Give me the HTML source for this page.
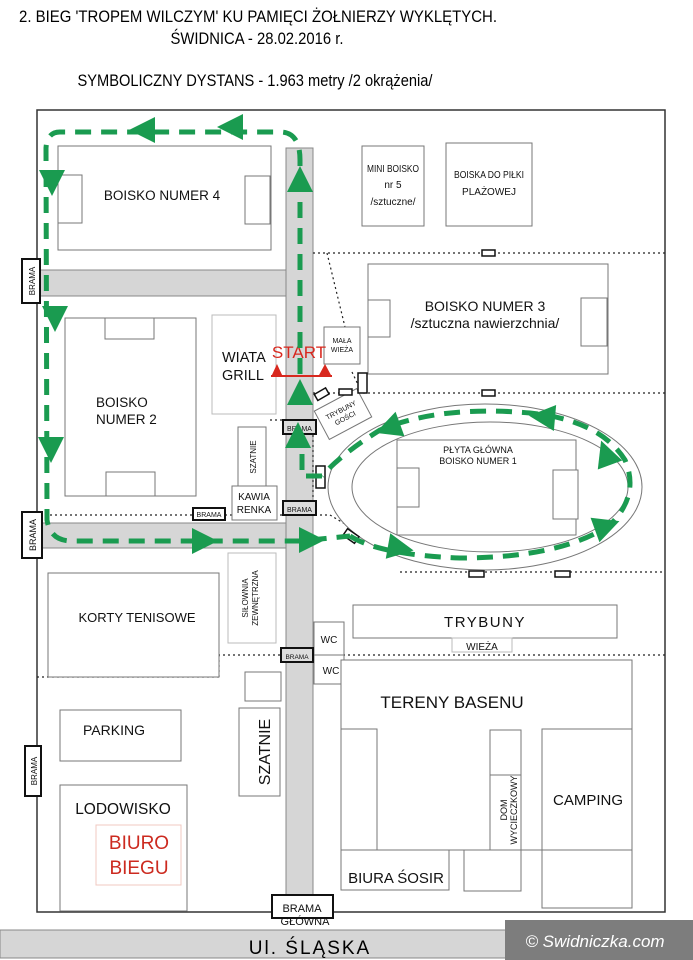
<!DOCTYPE html>
<html><head><meta charset="utf-8"><style>
html,body{margin:0;padding:0;background:#fff;}
svg{display:block;font-family:"Liberation Sans",sans-serif;}
</style></head><body>
<svg width="693" height="960" viewBox="0 0 693 960" xmlns="http://www.w3.org/2000/svg">
<defs>
<polygon id="ar" points="0,-13 26,0 0,13" fill="#1a9b50"/>
</defs>
<rect width="693" height="960" fill="#fff"/>
<!-- titles -->
<text x="258" y="22" font-size="17" text-anchor="middle" textLength="478" lengthAdjust="spacingAndGlyphs">2. BIEG 'TROPEM WILCZYM'  KU PAMIĘCI ŻOŁNIERZY WYKLĘTYCH.</text>
<text x="257" y="44" font-size="17" text-anchor="middle" textLength="173" lengthAdjust="spacingAndGlyphs">ŚWIDNICA - 28.02.2016 r.</text>
<text x="255" y="86" font-size="17" text-anchor="middle" textLength="355" lengthAdjust="spacingAndGlyphs">SYMBOLICZNY DYSTANS - 1.963 metry  /2 okrążenia/</text>

<g fill="none" stroke="#555" stroke-width="1">
<rect x="37" y="110" width="628" height="802" stroke="#333" stroke-width="1.5"/>
</g>
<!-- roads -->
<g fill="#d6d6d6" stroke="#888" stroke-width="1">
<rect x="286" y="148" width="27" height="764"/>
<rect x="37" y="270" width="249" height="26"/>
<rect x="37" y="523" width="249" height="25"/>
</g>
<!-- dotted -->
<g stroke="#222" stroke-width="1.2" stroke-dasharray="2,3" fill="none">
<line x1="313" y1="253" x2="665" y2="253"/>
<line x1="327" y1="253" x2="345" y2="327"/>
<line x1="313" y1="393" x2="665" y2="393"/>
<line x1="352" y1="372" x2="362" y2="393"/>
<line x1="313" y1="420" x2="313" y2="515"/>
<line x1="50" y1="515" x2="330" y2="515"/>
<line x1="330" y1="515" x2="385" y2="548"/>
<line x1="400" y1="572" x2="665" y2="572"/>
<line x1="218" y1="655" x2="665" y2="655"/>
<line x1="37" y1="677" x2="219" y2="677"/>
<line x1="219" y1="655" x2="219" y2="677"/>
<line x1="270" y1="420" x2="286" y2="420"/>
</g>
<!-- buildings -->
<g fill="#fff" stroke="#777" stroke-width="1">
<rect x="58" y="146" width="213" height="104"/>
<rect x="58" y="175" width="24" height="48"/>
<rect x="245" y="176" width="25" height="48"/>
<rect x="65" y="318" width="131" height="178"/>
<rect x="105" y="318" width="49" height="21"/>
<rect x="106" y="472" width="49" height="24"/>
<rect x="212" y="315" width="64" height="99" stroke="#bbb"/>
<rect x="362" y="146" width="62" height="80"/>
<rect x="446" y="143" width="86" height="83"/>
<rect x="368" y="264" width="240" height="110"/>
<rect x="368" y="300" width="22" height="37"/>
<rect x="581" y="298" width="26" height="48"/>
<rect x="324" y="327" width="36" height="37"/>
<ellipse cx="485" cy="487" rx="157" ry="83"/>
<ellipse cx="490" cy="487" rx="138" ry="65"/>
<rect x="397" y="440" width="179" height="95"/>
<rect x="397" y="468" width="22" height="39"/>
<rect x="553" y="470" width="25" height="49"/>
<rect x="319" y="398" width="48" height="32" transform="rotate(-28 343 414)"/>
<rect x="238" y="427" width="28" height="59"/>
<rect x="232" y="486" width="45" height="34"/>
<rect x="228" y="553" width="48" height="90" stroke="#bbb"/>
<rect x="48" y="573" width="171" height="104"/>
<rect x="314" y="622" width="30" height="33"/>
<rect x="314" y="655" width="30" height="29"/>
<rect x="353" y="605" width="264" height="33"/>
<rect x="452" y="638" width="60" height="14" stroke="#bbb"/>
<rect x="341" y="660" width="291" height="190"/>
<rect x="341" y="729" width="36" height="121"/>
<rect x="490" y="730" width="31" height="120"/>
<rect x="490" y="775" width="31" height="76"/>
<rect x="542" y="729" width="90" height="121"/>
<rect x="542" y="850" width="90" height="58"/>
<rect x="341" y="850" width="108" height="40"/>
<rect x="464" y="850" width="57" height="41"/>
<rect x="245" y="672" width="36" height="29"/>
<rect x="239" y="708" width="41" height="88"/>
<rect x="60" y="710" width="121" height="51"/>
<rect x="60" y="785" width="127" height="126"/>
<rect x="96" y="825" width="85" height="60" stroke="#f0c8c0"/>
</g>
<!-- gates -->
<g fill="#fff" stroke="#111" stroke-width="2">
<rect x="22" y="259" width="18" height="44"/>
<rect x="22" y="512" width="20" height="46"/>
<rect x="25" y="746" width="16" height="50"/>
<rect x="283" y="420" width="33" height="14" fill="#ddd"/>
<rect x="283" y="501" width="33" height="14" fill="#ddd"/>
<rect x="193" y="508" width="32" height="12"/>
<rect x="281" y="648" width="32" height="14" fill="#ddd"/>
<rect x="272" y="895" width="61" height="23"/>
<rect x="316" y="466" width="9" height="22" stroke-width="1.5"/>
<rect x="358" y="373" width="9" height="20" stroke-width="1.5"/>
<rect x="339" y="389" width="13" height="6" stroke-width="1.5"/>
<rect x="482" y="250" width="13" height="6" stroke-width="1.5"/>
<rect x="482" y="390" width="13" height="6" stroke-width="1.5"/>
<rect x="469" y="571" width="15" height="6" stroke-width="1.5"/>
<rect x="555" y="571" width="15" height="6" stroke-width="1.5"/>
<rect x="315" y="391" width="13" height="7" stroke-width="1.5" transform="rotate(-30 321 394)"/>
<rect x="344" y="532" width="14" height="8" stroke-width="1.5" transform="rotate(35 351 536)"/>
</g>
<!-- street -->
<rect x="0" y="930" width="693" height="28" fill="#d6d6d6" stroke="#888"/>
<text x="310" y="954" font-size="19" text-anchor="middle" letter-spacing="2">Ul. ŚLĄSKA</text>
<rect x="505" y="920" width="188" height="40" fill="#7d7d7d"/>
<text x="595" y="947" font-size="17" fill="#fff" text-anchor="middle" font-style="italic">© Swidniczka.com</text>

<!-- labels -->
<g font-size="13" fill="#111">
<text x="162" y="200" text-anchor="middle" font-size="13.5">BOISKO NUMER 4</text>
<text x="96" y="407" font-size="13.5">BOISKO</text>
<text x="96" y="424" font-size="13.5">NUMER 2</text>
<text x="222" y="362" font-size="14.5">WIATA</text>
<text x="222" y="380" font-size="14.5">GRILL</text>
<text x="393" y="172" font-size="10" text-anchor="middle" textLength="52" lengthAdjust="spacingAndGlyphs">MINI BOISKO</text>
<text x="393" y="188" font-size="10" text-anchor="middle">nr 5</text>
<text x="393" y="205" font-size="10" text-anchor="middle">/sztuczne/</text>
<text x="489" y="178" font-size="10" text-anchor="middle" textLength="70" lengthAdjust="spacingAndGlyphs">BOISKA DO PIŁKI</text>
<text x="489" y="195" font-size="10" text-anchor="middle">PLAŻOWEJ</text>
<text x="485" y="311" font-size="14" text-anchor="middle">BOISKO NUMER 3</text>
<text x="485" y="328" font-size="14" text-anchor="middle">/sztuczna nawierzchnia/</text>
<text x="342" y="343" font-size="7" text-anchor="middle">MAŁA</text>
<text x="342" y="352" font-size="7" text-anchor="middle">WIEŻA</text>
<text x="478" y="453" font-size="9" text-anchor="middle">PŁYTA GŁÓWNA</text>
<text x="478" y="464" font-size="9" text-anchor="middle">BOISKO NUMER 1</text>
<g transform="rotate(-28 343 414)"><text x="343" y="412" font-size="7" text-anchor="middle">TRYBUNY</text><text x="343" y="421" font-size="7" text-anchor="middle">GOŚCI</text></g>
<text transform="translate(256 457) rotate(-90)" font-size="8" text-anchor="middle">SZATNIE</text>
<text x="254" y="500" font-size="10" text-anchor="middle">KAWIA</text>
<text x="254" y="513" font-size="10" text-anchor="middle">RENKA</text>
<text x="299.5" y="431" font-size="7" text-anchor="middle">BRAMA</text>
<text x="299.5" y="512" font-size="7" text-anchor="middle">BRAMA</text>
<text x="209" y="517" font-size="7" text-anchor="middle">BRAMA</text>
<text x="297" y="659" font-size="6.5" text-anchor="middle">BRAMA</text>
<text transform="translate(35 281) rotate(-90)" font-size="8" text-anchor="middle">BRAMA</text>
<text transform="translate(36 535) rotate(-90)" font-size="9" text-anchor="middle">BRAMA</text>
<text transform="translate(37 771) rotate(-90)" font-size="8" text-anchor="middle">BRAMA</text>
<text transform="translate(248 598) rotate(-90)" font-size="8" text-anchor="middle">SIŁOWNIA</text>
<text transform="translate(258 598) rotate(-90)" font-size="8" text-anchor="middle">ZEWNĘTRZNA</text>
<text x="137" y="622" font-size="13" text-anchor="middle">KORTY TENISOWE</text>
<text x="329" y="643" font-size="10" text-anchor="middle">WC</text>
<text x="331" y="674" font-size="10" text-anchor="middle">WC</text>
<text x="485" y="627" font-size="15" text-anchor="middle" letter-spacing="1.5">TRYBUNY</text>
<text x="482" y="650" font-size="10" text-anchor="middle">WIEŻA</text>
<text x="452" y="708" font-size="17" text-anchor="middle">TERENY BASENU</text>
<text transform="translate(270 752) rotate(-90)" font-size="16" text-anchor="middle">SZATNIE</text>
<text x="114" y="735" font-size="14" text-anchor="middle">PARKING</text>
<text x="123" y="814" font-size="15.5" text-anchor="middle">LODOWISKO</text>
<text x="139" y="849" font-size="19" fill="#cc2a1f" text-anchor="middle">BIURO</text>
<text x="139" y="874" font-size="19" fill="#cc2a1f" text-anchor="middle">BIEGU</text>
<text x="588" y="805" font-size="15" text-anchor="middle">CAMPING</text>
<text transform="translate(507 810) rotate(-90)" font-size="9" text-anchor="middle">DOM</text>
<text transform="translate(517 810) rotate(-90)" font-size="9" text-anchor="middle">WYCIECZKOWY</text>
<text x="396" y="883" font-size="15" text-anchor="middle">BIURA ŚOSIR</text>
<text x="302" y="912" font-size="11" text-anchor="middle">BRAMA</text>
<text x="305" y="925" font-size="11" text-anchor="middle">GŁÓWNA</text>
</g>

<!-- START -->
<text x="299" y="358" font-size="17" fill="#d8281e" text-anchor="middle">START</text>
<line x1="271" y1="376" x2="332" y2="376" stroke="#d8281e" stroke-width="2"/>
<polygon points="271,377 277,364 283,377" fill="#d8281e"/>
<polygon points="318,377 325,364 332,377" fill="#d8281e"/>

<!-- green route -->
<g fill="none" stroke="#1a9b50" stroke-width="5" stroke-dasharray="16,10">
<path d="M300,400 L300,160 Q300,132 280,132 L60,132 Q47,132 46,148 L47,520 Q50,540 70,541 L300,541 L350,536"/>
<path d="M350,536 Q380,555 460,558 Q560,558 610,525 Q640,495 625,460 Q600,420 530,413 Q440,405 380,430 Q340,455 322,476"/>
<path d="M322,476 L302,476 L302,440"/>
</g>
<use href="#ar" transform="translate(300 192) rotate(-90)"/>
<use href="#ar" transform="translate(300 405) rotate(-90)"/>
<use href="#ar" transform="translate(298 448) rotate(-90)"/>
<use href="#ar" transform="translate(243 127) rotate(180)"/>
<use href="#ar" transform="translate(155 130) rotate(180)"/>
<use href="#ar" transform="translate(52 170) rotate(90)"/>
<use href="#ar" transform="translate(55 306) rotate(90)"/>
<use href="#ar" transform="translate(51 437) rotate(90)"/>
<use href="#ar" transform="translate(192 541)"/>
<use href="#ar" transform="translate(299 540)"/>
<use href="#ar" transform="translate(388 546) rotate(10)"/>
<use href="#ar" transform="translate(595 530) rotate(-20)"/>
<use href="#ar" transform="translate(610 465) rotate(-110)"/>
<use href="#ar" transform="translate(555 418) rotate(185)"/>
<use href="#ar" transform="translate(400 424) rotate(160)"/>
</svg>
</body></html>
